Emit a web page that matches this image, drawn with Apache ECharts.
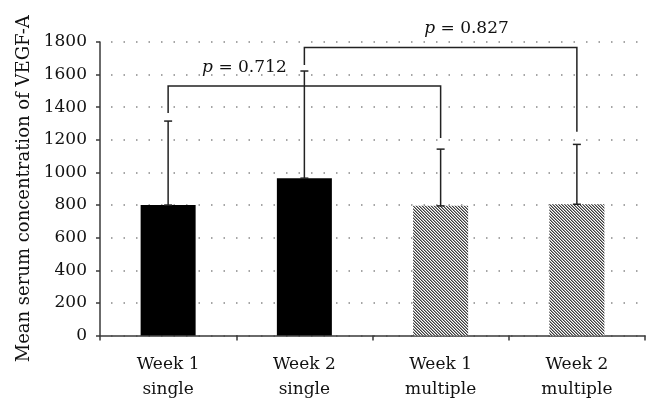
<!DOCTYPE html>
<html>
<head>
<meta charset="utf-8">
<script src="https://cdn.jsdelivr.net/npm/echarts@6/dist/echarts.min.js"></script>
<style>html,body{margin:0;padding:0;background:#fff}#c{width:660px;height:414px}</style>
</head>
<body>
<div id="c"></div>
<script>
// ---- data ----
var categories = ['Week 1\nsingle', 'Week 2\nsingle', 'Week 1\nmultiple', 'Week 2\nmultiple'];
var meanValues = [800, 965, 795, 805];
var errorUpper = [1315, 1622, 1143, 1172];
var yTicks = [0, 200, 400, 600, 800, 1000, 1200, 1400, 1600, 1800];
// brackets: [fromIndex, toIndex, topValue, leftLegEnd, rightLegEnd]
var bracketFrom = [0, 1];
var bracketTo = [2, 3];
var bracketTop = [1530, 1767];
var bracketLeftEnd = [1364, 1659];
var bracketRightEnd = [1211, 1250];
var bracketText = ['0.712', '0.827'];

// ---- styles ----
var FONT = 'DejaVu Serif';
function hatch() {
  var c = document.createElement('canvas');
  c.width = 3; c.height = 3;
  var g = c.getContext('2d');
  g.fillStyle = '#ffffff'; g.fillRect(0, 0, 3, 3);
  for (var i = 0; i < 3; i++) {
    g.fillStyle = '#3c3c3c'; g.fillRect(i, i, 1, 1);
    g.fillStyle = '#9a9a9a'; g.fillRect((i + 1) % 3, i, 1, 1);
  }
  return { image: c, repeat: 'repeat' };
}
var hatchPattern = hatch();
var barColors = ['#000000', '#000000', hatchPattern, hatchPattern];
var labelFracX = [0.28, 0.595];

var chart = echarts.init(document.getElementById('c'), null, { renderer: 'canvas' });

var barData = meanValues.map(function (v, i) {
  return { value: v, itemStyle: { color: barColors[i] } };
});
var errData = meanValues.map(function (v, i) { return [i, v, errorUpper[i]]; });
var brData = bracketFrom.map(function (f, i) {
  return [f, bracketTo[i], bracketTop[i], bracketLeftEnd[i], bracketRightEnd[i], i];
});

chart.setOption({
  animation: false,
  backgroundColor: '#fff',
  grid: { left: 100, right: 15, top: 42, bottom: 78.5, containLabel: false },
  xAxis: {
    type: 'category',
    data: categories,
    boundaryGap: true,
    axisLine: { lineStyle: { color: '#3a3a3a', width: 1.5 } },
    axisTick: { show: true, length: 5, inside: false, lineStyle: { color: '#3a3a3a', width: 1.5 } },
    axisLabel: { color: '#111', fontFamily: FONT, fontSize: 17, lineHeight: 25, margin: 17 },
    splitLine: { show: false }
  },
  yAxis: {
    type: 'value',
    min: 0, max: 1800, interval: 200,
    name: 'Mean serum concentration of VEGF-A',
    nameLocation: 'middle',
    nameGap: 67,
    nameTextStyle: { color: '#111', fontFamily: FONT, fontSize: 18 },
    axisLine: { show: true, lineStyle: { color: '#3a3a3a', width: 1.5 } },
    axisTick: { show: true, length: 4, lineStyle: { color: '#3a3a3a', width: 1.5 } },
    axisLabel: {
      color: '#111', fontFamily: FONT, fontSize: 17, margin: 13,
      formatter: function (v) { return yTicks.indexOf(v) >= 0 ? String(v) : ''; }
    },
    splitLine: { show: true, lineStyle: { color: '#888', width: 1.5, type: [1.5, 11], dashOffset: -11 } }
  },
  series: [
    {
      type: 'bar',
      data: barData,
      barWidth: 55,
      z: 2
    },
    {
      type: 'custom',
      data: errData,
      z: 3,
      renderItem: function (params, api) {
        var x = api.value(0);
        var p0 = api.coord([x, api.value(1)]);
        var p1 = api.coord([x, api.value(2)]);
        var hw = 4;
        var st = { stroke: '#222', lineWidth: 1.5 };
        return {
          type: 'group',
          children: [
            { type: 'line', shape: { x1: p0[0], y1: p0[1], x2: p1[0], y2: p1[1] }, style: st },
            { type: 'line', shape: { x1: p1[0] - hw, y1: p1[1], x2: p1[0] + hw, y2: p1[1] }, style: st },
            { type: 'line', shape: { x1: p0[0] - hw, y1: p0[1], x2: p0[0] + hw, y2: p0[1] }, style: st }
          ]
        };
      }
    },
    {
      type: 'custom',
      data: brData,
      z: 4,
      renderItem: function (params, api) {
        var a = api.value(0), b = api.value(1);
        var top = api.value(2), le = api.value(3), re = api.value(4), k = api.value(5);
        var pl = api.coord([a, top]);
        var pr = api.coord([b, top]);
        var ple = api.coord([a, le]);
        var pre = api.coord([b, re]);
        var st = { stroke: '#222', lineWidth: 1.5, fill: null };
        var tx = pl[0] + (pr[0] - pl[0]) * labelFracX[k];
        return {
          type: 'group',
          children: [
            { type: 'polyline', shape: { points: [[pl[0], ple[1]], [pl[0], pl[1]], [pr[0], pr[1]], [pr[0], pre[1]]] }, style: st },
            {
              type: 'text',
              x: tx, y: pl[1] - 10,
              style: {
                text: '{i|p} = ' + bracketText[k],
                align: 'center', verticalAlign: 'bottom',
                fontFamily: FONT, fontSize: 17, fill: '#111',
                rich: { i: { fontStyle: 'italic', fontFamily: FONT, fontSize: 17, fill: '#111' } }
              }
            }
          ]
        };
      }
    }
  ]
});
</script>
</body>
</html>
